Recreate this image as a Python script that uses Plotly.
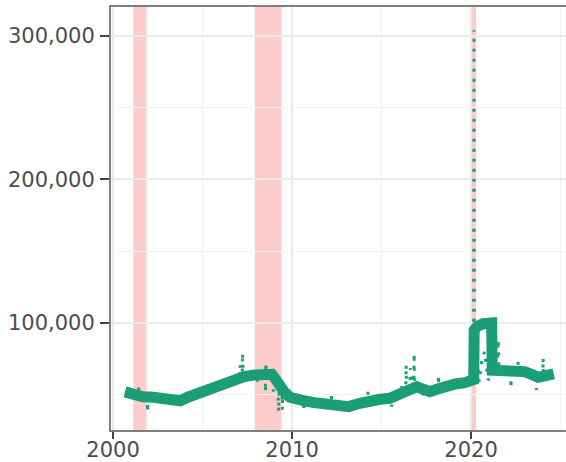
import plotly.graph_objects as go

# Thick series (key readings from the picture)
trend_dates = ["2000-09-01", "2001-01-01", "2001-05-01", "2001-09-01", "2002-04-01", "2002-10-01",
               "2003-05-01", "2003-10-01", "2004-04-01", "2004-11-01", "2005-06-01", "2005-12-01",
               "2006-07-01", "2006-11-01", "2007-05-01", "2007-12-01", "2008-06-01", "2008-11-15",
               "2009-01-15", "2009-05-01", "2009-08-15", "2009-11-20", "2010-03-01", "2010-10-01",
               "2011-04-01", "2011-11-01", "2012-05-01", "2012-10-01", "2013-03-01", "2013-10-15",
               "2014-05-01", "2014-12-01", "2015-06-15", "2016-01-01", "2016-08-01", "2016-12-20",
               "2017-05-01", "2017-09-15", "2018-02-01", "2018-08-15", "2019-02-15", "2019-08-30",
               "2020-02-15", "2020-02-25", "2020-03-05", "2020-05-01", "2020-09-01", "2021-01-15",
               "2021-02-25", "2021-03-08", "2021-07-01", "2022-04-01", "2023-01-01", "2023-06-15",
               "2023-10-01", "2024-02-15", "2024-08-15"]
trend_values = [52000, 50500, 49000, 48600, 48200, 46800,
                45600, 45800, 48600, 51400, 53800, 56800,
                59100, 60800, 62600, 63800, 64200, 64200,
                61500, 55600, 51000, 48200, 47000, 45600,
                44500, 43600, 42200, 41700, 41700, 44000,
                46300, 46800, 47500, 49800, 53300, 55600,
                53800, 52100, 53800, 56100, 57500, 58400,
                60300, 60500, 95000, 97500, 99500, 100500,
                100000, 67000, 66800, 66100, 66100, 63800,
                62200, 63100, 64500]

# Weekly series drawn dotted (readings incl. spikes)
raw_dates = ["2000-09-01", "2001-01-01", "2001-05-01",
             "2001-06-01", "2001-06-08", "2001-06-15", "2001-09-01",
             "2001-12-01", "2001-12-08", "2001-12-15", "2002-04-01", "2002-10-01",
             "2003-05-01", "2003-10-01", "2004-04-01",
             "2004-10-20", "2004-10-27", "2004-11-03", "2005-06-01", "2005-12-01",
             "2006-07-01", "2006-11-01",
             "2007-02-01", "2007-02-08", "2007-02-15",
             "2007-03-20", "2007-03-27", "2007-04-03", "2007-04-10", "2007-12-01",
             "2008-01-20", "2008-01-27", "2008-02-03", "2008-06-01",
             "2008-07-01", "2008-07-08", "2008-07-15", "2008-07-22", "2008-11-15",
             "2008-12-10", "2008-12-17", "2008-12-24", "2009-01-15",
             "2009-03-20", "2009-03-27", "2009-04-03", "2009-04-10", "2009-05-01",
             "2009-06-10", "2009-06-17", "2009-06-24", "2009-08-15",
             "2009-10-20", "2009-10-27", "2009-11-03", "2009-11-20",
             "2010-03-01", "2010-08-20", "2010-08-27", "2010-09-03", "2010-10-01",
             "2011-04-01", "2011-11-01", "2012-03-10", "2012-03-17", "2012-03-24",
             "2012-05-01", "2012-10-01", "2013-03-01", "2013-10-15",
             "2014-03-20", "2014-03-27", "2014-04-03", "2014-05-01", "2014-12-01",
             "2015-06-15", "2015-07-20", "2015-07-27", "2015-08-03",
             "2016-01-01", "2016-02-10", "2016-02-17", "2016-02-24",
             "2016-05-10", "2016-05-17", "2016-05-24", "2016-08-01", "2016-08-08",
             "2016-10-20", "2016-10-27", "2016-11-03", "2016-12-20",
             "2017-04-20", "2017-04-27", "2017-05-04", "2017-09-15", "2018-02-01",
             "2018-03-01", "2018-03-08", "2018-03-15", "2018-08-15", "2019-02-15",
             "2019-03-10", "2019-03-17", "2019-03-24", "2019-08-30", "2020-02-15",
             "2020-02-22", "2020-03-01", "2020-03-08", "2020-04-01", "2020-05-15",
             "2020-06-15", "2020-08-01", "2020-10-01", "2020-11-01", "2020-12-15",
             "2021-02-01", "2021-03-08", "2021-06-15", "2021-07-10", "2021-07-17",
             "2021-07-24", "2022-03-20", "2022-03-27", "2022-04-03",
             "2022-08-10", "2022-08-17", "2022-08-24", "2023-01-01", "2023-06-15",
             "2023-08-20", "2023-08-27", "2023-09-03", "2023-10-01",
             "2024-01-05", "2024-01-12", "2024-01-19", "2024-02-15", "2024-08-15"]
raw_values = [52000, 50500, 49000,
              48800, 55600, 48700, 48600,
              48400, 37800, 48300, 48200, 46800,
              45600, 45800, 48600,
              51200, 54500, 51400, 53800, 56800,
              59100, 60800,
              61800, 70700, 62000,
              62200, 79000, 72300, 62500, 63800,
              63900, 58000, 64000, 64200,
              64200, 52000, 72300, 64200, 64200,
              63200, 52100, 62800, 61500,
              57000, 44000, 38200, 55000, 55600,
              52500, 39400, 52000, 51000,
              49200, 55600, 48800, 48200,
              47000, 45800, 40500, 45700, 45600,
              44500, 43600, 43300, 49800, 43000,
              42200, 41700, 41700, 44000,
              45500, 52100, 45800, 46300, 46800,
              47500, 47600, 41700, 47700,
              49800, 50300, 56800, 50500,
              51800, 70700, 52000, 53300, 68400,
              55000, 78900, 55400, 55600,
              54000, 47500, 53800, 52100, 53800,
              54200, 63800, 54300, 56100, 57500,
              57700, 63800, 57800, 58400, 60300,
              61000, 304000, 82400, 64000, 70700,
              59100, 72000, 80000, 73000, 60300,
              62000, 67000, 66800, 88200, 81200,
              66800, 66200, 54500, 66100,
              66100, 73000, 66100, 66100, 63800,
              62600, 53300, 62400, 62200,
              62800, 75400, 62900, 63100, 64500]

# Recession periods
rec_start = ["2001-02-15", "2007-12-01", "2019-12-15"]
rec_end = ["2001-11-15", "2009-06-01", "2020-04-15"]

x_ticks = ["2000-01-01", "2010-01-01", "2020-01-01"]
x_tick_labels = ["2000", "2010", "2020"]
x_minor = ["2005-01-01", "2015-01-01", "2025-01-01"]
y_ticks = [100000, 200000, 300000]
y_tick_labels = ["100,000", "200,000", "300,000"]
y_minor = [50000, 150000, 250000]

GREEN = "#1B9E77"
FONT = "DejaVu Sans"
FSIZE = 21

fig = go.Figure()
fig.add_trace(go.Scatter(x=raw_dates, y=raw_values, mode="lines",
                         line=dict(color=GREEN, width=3, dash="3px,7px"),
                         hoverinfo="skip", showlegend=False))
fig.add_trace(go.Scatter(x=trend_dates, y=trend_values, mode="lines",
                         line=dict(color=GREEN, width=11),
                         showlegend=False))

for s, e in zip(rec_start, rec_end):
    fig.add_shape(type="rect", xref="x", yref="paper", x0=s, x1=e, y0=0, y1=1,
                  fillcolor="rgba(255,0,0,0.2)", line=dict(width=0), layer="below")

fig.update_layout(
    width=566, height=462,
    margin=dict(l=111, r=0, t=7, b=32, autoexpand=False),
    paper_bgcolor="white", plot_bgcolor="white",
    showlegend=False,
    font=dict(family=FONT, size=FSIZE, color="#4D4D4D"),
)
fig.update_xaxes(
    type="date", range=["1999-11-20", "2025-04-22"], automargin=False,
    tickvals=x_ticks, ticktext=x_tick_labels,
    ticks="outside", ticklen=7, tickwidth=2, tickcolor="#444444",
    ticklabelstandoff=-7,
    showgrid=True, gridcolor="#EBEBEB", gridwidth=1.5,
    minor=dict(tickvals=x_minor, showgrid=True, gridcolor="#F3F3F3", gridwidth=1, ticklen=0),
    showline=True, linecolor="#808080", linewidth=2, mirror=True,
    zeroline=False,
    tickfont=dict(family=FONT, size=FSIZE, color="#4D4D4D"),
)
fig.update_yaxes(
    range=[25400, 320200], automargin=False,
    tickvals=y_ticks, ticktext=y_tick_labels,
    ticks="outside", ticklen=9, tickwidth=2, tickcolor="#444444",
    ticklabelstandoff=1,
    showgrid=True, gridcolor="#EBEBEB", gridwidth=1.5,
    minor=dict(tickvals=y_minor, showgrid=True, gridcolor="#F3F3F3", gridwidth=1, ticklen=0),
    showline=True, linecolor="#808080", linewidth=2, mirror=False,
    zeroline=False,
    tickfont=dict(family=FONT, size=FSIZE, color="#4D4D4D"),
)

fig.write_html(
    "out.html",
    config={"displayModeBar": False},
    post_script="document.body.style.margin='0';document.body.style.overflow='hidden';",
)
